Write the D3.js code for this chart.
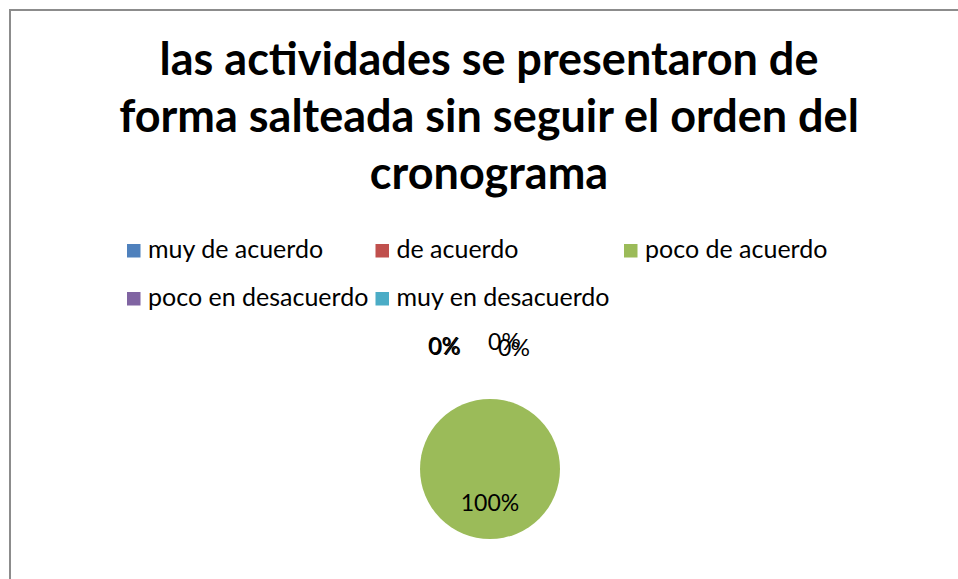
<!DOCTYPE html>
<html>
<head>
<meta charset="utf-8">
<script src="https://cdn.jsdelivr.net/npm/d3@7"></script>
<style>
  body { margin: 0; background: #fff; }
  text { font-family: Lato, "Open Sans", sans-serif; fill: #000; }
</style>
</head>
<body>
<div id="chart"></div>
<script>
const titleLines = ["las actividades se presentaron de", "forma salteada sin seguir el orden del", "cronograma"];
const categories = ["muy de acuerdo", "de acuerdo", "poco de acuerdo", "poco en desacuerdo", "muy en desacuerdo"];
const values = [0, 0, 100, 0, 0];
const colors = ["#4F81BD", "#C0504D", "#9BBB59", "#8064A2", "#4BACC6"];
// small nudges so the zero labels sit like the original (overlapping at the top)
const labelNudge = [[-46, 5], [-45, 5.5], [0, 0], [14, 1], [24, 7]];

const W = 958, H = 579;
const svg = d3.select("#chart").append("svg").attr("width", W).attr("height", H);

svg.append("rect").attr("x", 10).attr("y", 10).attr("width", W).attr("height", H)
  .attr("fill", "#fff").attr("stroke", "#8c8c8c").attr("stroke-width", 2);

// title
svg.append("g").selectAll("text").data(titleLines).enter().append("text")
  .attr("x", 489).attr("y", (d, i) => 75 + i * 57)
  .attr("text-anchor", "middle")
  .attr("font-size", 45).attr("font-weight", "bold")
  .text(d => d);

// legend, 3 per row
const legend = svg.append("g").selectAll("g").data(categories).enter().append("g")
  .attr("transform", (d, i) => `translate(${127 + (i % 3) * 248.5},${244 + Math.floor(i / 3) * 48})`);
legend.append("rect").attr("width", 13.5).attr("height", 13.5).attr("fill", (d, i) => colors[i]);
legend.append("text").attr("x", 21).attr("y", 14).attr("font-size", 25).text(d => d);

// pie
const cx = 490, cy = 469, r = 70;
const pie = d3.pie().sort(null).value(d => d)(values);
const arc = d3.arc().innerRadius(0).outerRadius(r);
const outer = d3.arc().innerRadius(r + 50).outerRadius(r + 50);
const total = d3.sum(values);

const g = svg.append("g").attr("transform", `translate(${cx},${cy})`);
g.selectAll("path").data(pie).enter().append("path")
  .attr("d", arc).attr("fill", (d, i) => colors[i]);

g.selectAll("text.lbl").data(pie).enter().append("text")
  .attr("class", "lbl")
  .attr("text-anchor", "middle")
  .attr("font-size", 23)
  .attr("transform", (d, i) => {
    let p;
    if (d.value === total) { p = arc.centroid(d); p[1] += 7; }
    else { p = outer.centroid(d); }
    return `translate(${p[0] + labelNudge[i][0]},${p[1] + labelNudge[i][1]})`;
  })
  .text(d => Math.round(d.value / total * 100) + "%");
</script>
</body>
</html>
